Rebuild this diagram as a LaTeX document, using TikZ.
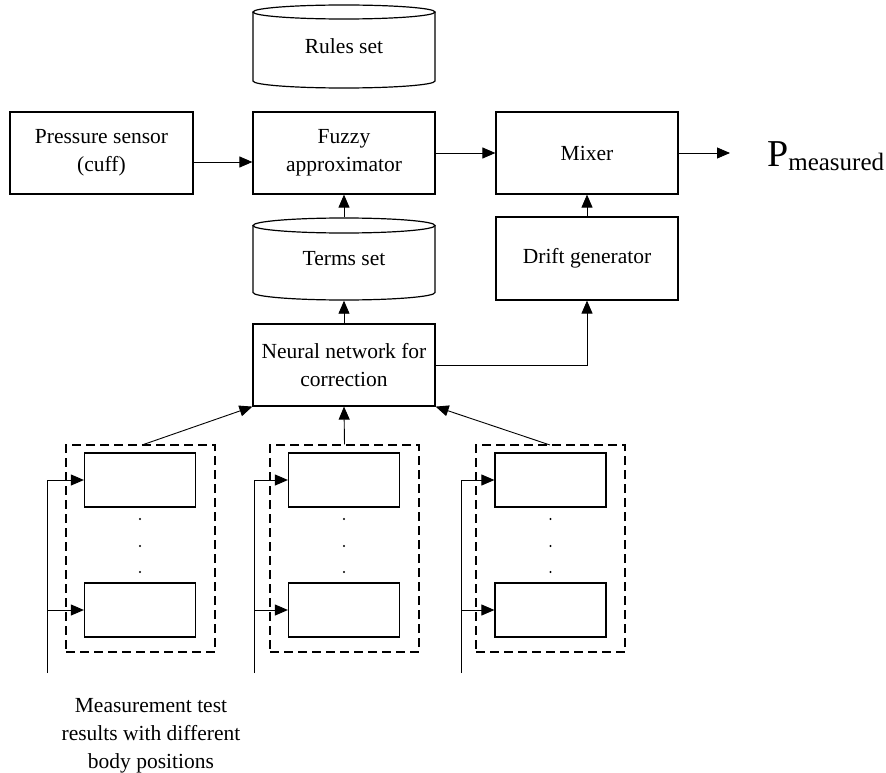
\documentclass[tikz,border=0pt]{standalone}
\usepackage{fontspec}
\setmainfont{Liberation Serif}
\newfontfamily\figfont{Liberation Serif}
\usetikzlibrary{arrows.meta}
\tikzset{
  box/.style={draw, line width=1.2pt, minimum width=182pt, minimum height=82pt, inner sep=0pt, align=center, font=\figfont\fontsize{21.5}{28}\selectfont},
  cylnode/.style={minimum width=182pt, minimum height=83pt, inner sep=0pt, align=center, font=\figfont\fontsize{21.5}{28}\selectfont},
  cylline/.style={line width=1.2pt},
  sbox/.style={draw, line width=1.2pt, minimum width=111pt, minimum height=54pt, inner sep=0pt},
  grp/.style={draw, line width=1.2pt, dash pattern=on 9pt off 5pt, minimum width=149pt, minimum height=207pt, inner sep=0pt},
  conn/.style={line width=0.9pt},
  arr/.style={conn, -{Triangle[length=13pt,width=11pt]}},
  dot/.style={circle, fill, inner sep=0pt, minimum size=2.4pt}
}
\begin{document}
\begin{tikzpicture}[x=1pt,y=-1pt]
\useasboundingbox (0,0) rectangle (886,773);
% cylinders
\node[cylnode] (rules) at (344,46.5) {Rules set};
\draw[cylline] (344,12) ellipse [x radius=91pt, y radius=7pt];
\draw[cylline] (253,12) -- (253,81) arc[start angle=180, end angle=360, x radius=91pt, y radius=7pt] -- (435,12);
\node[cylnode] (terms) at (344,259) {Terms set};
\draw[cylline] (344,225.5) ellipse [x radius=91pt, y radius=7.5pt];
\draw[cylline] (253,225.5) -- (253,292.5) arc[start angle=180, end angle=360, x radius=91pt, y radius=7.5pt] -- (435,225.5);
% boxes
\node[box, minimum width=183pt] (pres) at (101.5,153) {Pressure sensor\\(cuff)};
\node[box] (fuzzy) at (344,153) {Fuzzy\\approximator};
\node[box] (mixer) at (587,153) {Mixer};
\node[box, minimum height=83pt] (drift) at (587,258.5) {Drift generator};
\node[box] (nn) at (344,365) {Neural network for\\correction};
\node[anchor=base west, inner sep=0pt] (pout) at (767,166) {\figfont{\fontsize{38}{40}\selectfont P}\raisebox{-4pt}{\fontsize{25}{27}\selectfont measured}};
\coordinate (outend) at (730,153);
% groups
\node[grp] (g1) at (140.5,548.5) {};
\node[grp] (g2) at (344.5,548.5) {};
\node[grp] (g3) at (550.5,548.5) {};
\node[sbox] (g1a) at (140,480) {};
\node[sbox] (g1b) at (140,610) {};
\node[sbox] (g2a) at (344,480) {};
\node[sbox] (g2b) at (344,610) {};
\node[sbox] (g3a) at (550.5,480) {};
\node[sbox] (g3b) at (550.5,610) {};
\foreach \g/\x in {1/140,2/344,3/550.5}{
  \node[dot] (d\g a) at (\x,519) {};
  \node[dot] (d\g b) at (\x,546) {};
  \node[dot] (d\g c) at (\x,572) {};
}
\coordinate (in1) at (47,673);
\coordinate (in2) at (254,673);
\coordinate (in3) at (461,673);
\coordinate (b1) at (47,610);
\coordinate (b2) at (254,610);
\coordinate (b3) at (461,610);
\draw[arr] (in1) |- (g1a.west);
\draw[arr] (b1) -- (g1b.west);
\draw[arr] (in2) |- (g2a.west);
\draw[arr] (b2) -- (g2b.west);
\draw[arr] (in3) |- (g3a.west);
\draw[arr] (b3) -- (g3b.west);
\coordinate (t1) at (142,445);
\coordinate (t3) at (550,445);
\draw[arr] (t1) -- (nn.south west);
\draw[arr] (g2.north) -- (nn.south);
\draw[arr] (t3) -- (nn.south east);
% main connectors
\draw[arr] ([yshift=-9pt]pres.east) -- ([yshift=-9pt]fuzzy.west);
\draw[arr] (fuzzy.east) -- (mixer.west);
\draw[arr] (mixer.east) -- (outend);
\draw[arr] (terms.north) -- (fuzzy.south);
\draw[arr] (nn.north) -- (terms.south);
\draw[arr] (drift.north) -- (mixer.south);
\draw[arr] (nn.east) -| (drift.south);
% label
\node[align=center, inner sep=0pt, font=\figfont\fontsize{21.5}{28}\selectfont] (lbl) at (151,736) {Measurement test\\results with different\\body positions};
\end{tikzpicture}
\end{document}
